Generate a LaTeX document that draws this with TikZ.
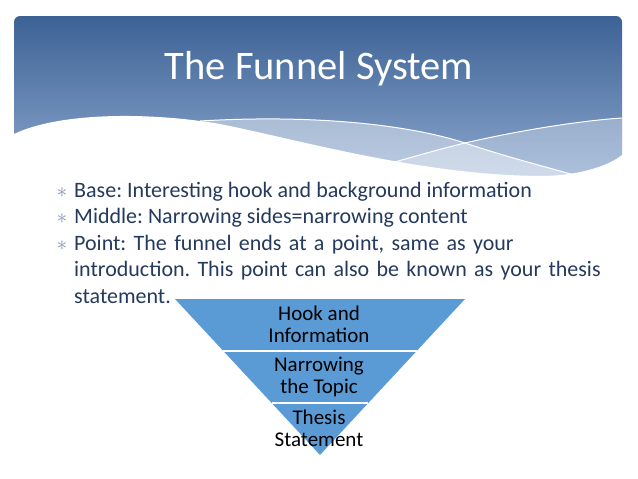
\documentclass[tikz,border=0pt]{standalone}
\usepackage{fontspec}
\setmainfont{Carlito}
\frenchspacing
\definecolor{headtop}{HTML}{3C6295}
\definecolor{headbot}{HTML}{8DA8CE}
\definecolor{bodyink}{HTML}{253A5C}
\definecolor{bulletgray}{HTML}{7F93B0}
\definecolor{funnelblue}{HTML}{5B9BD5}
\usetikzlibrary{calc,positioning}

\begin{document}
\begin{tikzpicture}[x=1pt,y=-1pt,
    bullet/.style={anchor=base west,font=\fontsize{22}{26.5}\selectfont,text=bodyink,inner sep=0pt},
    bulletmark/.style={anchor=base,text=bulletgray,inner sep=0pt,font=\fontsize{22}{22}\selectfont},
    layer/.style={font=\fontsize{21}{22}\selectfont,align=center,inner sep=0pt}]
    \useasboundingbox (0,0) rectangle (638,479);
    % header band
    \shade[top color=headtop,bottom color=headbot,rounded corners=6pt] (14,16) rectangle (622,182);
    \fill[white,opacity=0.42] (200,121) .. controls (300,115) and (400,122) .. (465,143)
        .. controls (510,158) and (550,168) .. (578,176) -- (578,200) -- (200,200) -- cycle;
    \fill[white,opacity=0.3] (391,163) .. controls (420,155) and (440,149) .. (465,143)
        .. controls (530,128) and (590,120) .. (622,118) -- (622,200) -- (391,200) -- cycle;
    \fill[white] (10,134) -- (14,134) .. controls (60,112) and (150,112) .. (220,124)
        .. controls (300,140) and (420,175) .. (540,176) .. controls (580,176) and (610,165) .. (622,155)
        -- (630,155) -- (630,200) -- (10,200) -- cycle;
    \draw[white,line width=1pt] (200,121) .. controls (300,115) and (400,122) .. (465,143)
        .. controls (510,158) and (550,168) .. (578,176);
    \draw[white,line width=1pt] (391,163) .. controls (420,155) and (440,149) .. (465,143)
        .. controls (530,128) and (590,120) .. (622,118);
    \node[white,font=\fontsize{40.5}{40}\selectfont,inner sep=0pt] (title) at (319,69) {The Funnel System};

    % bullet points
    \node[bullet] (base) at (74,197) {Base: Interesting hook and background information};
    \node[bullet] (middle) at (74,223.5) {Middle: Narrowing sides=narrowing content};
    \node[bullet,align=left,text width=540pt] (point) at (74,250)
        {Point: The funnel ends at a point, same as your\\introduction. This point can also be known as your thesis\\statement.};
    \foreach \yb/\nm in {197/mb,223.5/mm,250/mp}
        \node[bulletmark] (\nm) at (62,\yb) {$\ast$};

    % funnel
    \coordinate (tl) at (175,299);
    \coordinate (tr) at (465,299);
    \coordinate (tip) at (320,455);
    \fill[funnelblue] (tl) -- (tr) -- (tip) -- cycle;
    \draw[white,line width=1.2pt] ($(tl)!0.333!(tip)$) -- ($(tr)!0.333!(tip)$);
    \draw[white,line width=1.2pt] ($(tl)!0.667!(tip)$) -- ($(tr)!0.667!(tip)$);
    \node[layer] (hook) at (319,324) {Hook and\\Information};
    \node[layer] (narrow) at (319,377) {Narrowing\\the Topic};
    \node[layer] (thesis) at (319,428) {Thesis\\Statement};
\end{tikzpicture}
\end{document}
